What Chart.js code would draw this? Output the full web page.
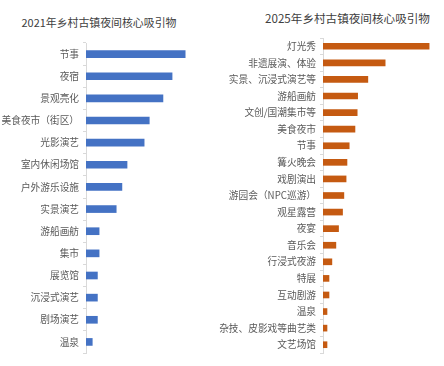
<!DOCTYPE html>
<html>
<head>
<meta charset="utf-8">
<script src="https://cdn.jsdelivr.net/npm/chart.js@4"></script>
<style>
  html,body{margin:0;padding:0;background:#fff;}
  #wrap{position:relative;width:444px;height:366px;overflow:hidden;font-family:"Noto Sans CJK SC","Noto Sans",sans-serif;}
  .ttl{position:absolute;color:#404040;white-space:nowrap;transform:translate(-50%,-50%);line-height:1;}
  canvas{position:absolute;top:0;}
</style>
</head>
<body>
<div id="wrap">
  <div class="ttl" id="t1" style="left:99px;top:22px;font-size:10.9px;">2021年乡村古镇夜间核心吸引物</div>
  <div class="ttl" id="t2" style="left:347.5px;top:19px;font-size:11.6px;">2025年乡村古镇夜间核心吸引物</div>
  <canvas id="c1" width="210" height="366" style="left:0;width:210px;height:366px;"></canvas>
  <canvas id="c2" width="234" height="366" style="left:210px;width:234px;height:366px;"></canvas>
</div>
<script>
const title2021 = "2021年乡村古镇夜间核心吸引物";
const title2025 = "2025年乡村古镇夜间核心吸引物";

const categories2021 = ["节事","夜宿","景观亮化","美食夜市（街区）","光影演艺","室内休闲场馆","户外游乐设施","实景演艺","游船画舫","集市","展览馆","沉浸式演艺","剧场演艺","温泉"];
const values2021 = [17.4,15.1,13.5,11.1,10.2,7.2,6.3,5.3,2.3,2.3,2.0,2.0,2.0,1.1];

const categories2025 = ["灯光秀","非遗展演、体验","实景、沉浸式演艺等","游船画舫","文创/国潮集市等","美食夜市","节事","篝火晚会","戏剧演出","游园会（NPC巡游）","观星露营","夜宴","音乐会","行浸式夜游","特展","互动剧游","温泉","杂技、皮影戏等曲艺类","文艺场馆"];
const values2025 = [23.9,14.0,10.1,7.8,7.7,7.2,5.9,5.4,5.2,4.7,4.4,3.5,2.9,2.0,1.35,1.35,0.9,0.9,0.9];

const FONT = '"Noto Sans CJK SC","Noto Sans",sans-serif';

function makeChart(id, labels, values, color, xMax, axisWidth, padTop, barThick) {
  return new Chart(document.getElementById(id), {
    type: 'bar',
    data: {
      labels: labels,
      datasets: [{ data: values, backgroundColor: color, borderWidth: 0, barThickness: barThick }]
    },
    options: {
      indexAxis: 'y',
      responsive: false,
      animation: false,
      devicePixelRatio: 1,
      layout: { padding: { top: padTop, bottom: 13, left: 0, right: 10 } },
      plugins: { legend: { display: false }, tooltip: { enabled: false }, title: { display: false } },
      scales: {
        x: { display: false, min: 0, max: xMax },
        y: {
          afterFit: (s) => { s.width = axisWidth; },
          grid: { display: true, drawOnChartArea: false, drawTicks: true, tickLength: 3, color: '#d9d9d9', offset: true },
          border: { display: true, color: '#d9d9d9', width: 1 },
          ticks: { color: '#595959', padding: 4, autoSkip: false, font: { family: FONT, size: 9.7 } }
        }
      }
    }
  });
}

makeChart('c1', categories2021, values2021, '#4472C4', 20, 86, 43, 7);
makeChart('c2', categories2025, values2025, '#C55A11', 25, 113, 38, 6);
</script>
</body>
</html>
